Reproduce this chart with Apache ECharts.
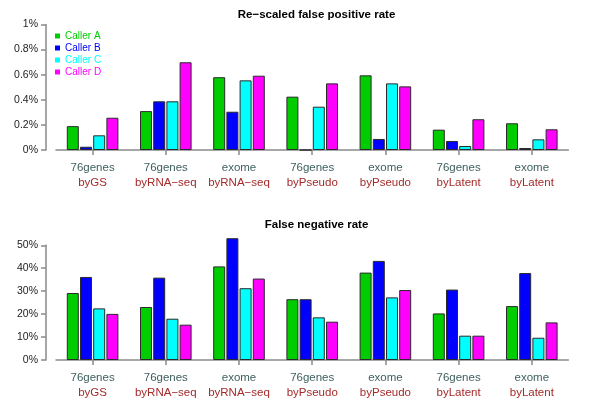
<!DOCTYPE html>
<html>
<head>
<meta charset="utf-8">
<script src="https://cdn.jsdelivr.net/npm/echarts@6/dist/echarts.min.js"></script>
<style>html,body{margin:0;padding:0;background:#fff}#c{width:600px;height:420px}</style>
</head>
<body>
<div id="c"></div>
<script>
// Data
var datasets = ['76genes','76genes','exome','76genes','exome','76genes','exome'];
var methods = ['byGS','byRNA\u2212seq','byRNA\u2212seq','byPseudo','byPseudo','byLatent','byLatent'];
var callers = ['Caller A','Caller B','Caller C','Caller D'];
var callerColors = ['#00CD00','#0000FF','#00FFFF','#FF00FF'];
// Re-scaled false positive rate (%)
var fpA = [0.19, 0.31, 0.58, 0.425, 0.595, 0.162, 0.213];
var fpB = [0.026, 0.388, 0.305, 0, 0.088, 0.072, 0.016];
var fpC = [0.117, 0.388, 0.555, 0.345, 0.531, 0.032, 0.085];
var fpD = [0.257, 0.699, 0.592, 0.531, 0.507, 0.245, 0.165];
// False negative rate (%)
var fnA = [29.2, 23.1, 40.8, 26.5, 38.1, 20.3, 23.5];
var fnB = [36.2, 35.9, 53.1, 26.5, 43.2, 30.7, 37.9];
var fnC = [22.5, 18.0, 31.3, 18.6, 27.3, 10.6, 9.7];
var fnD = [20.1, 15.4, 35.5, 16.7, 30.5, 10.6, 16.4];
var titles = ['Re\u2212scaled false positive rate', 'False negative rate'];

var cats = datasets.map(function(d,i){ return d + '\n' + methods[i]; });
var font = 'Liberation Sans, Arial, Helvetica, sans-serif';

function xAx(gi){
  return {
    type:'category', gridIndex: gi, data: cats,
    axisLine:{show:true, lineStyle:{color:'#8a8a8a', width:1.5}},
    axisTick:{show:true, alignWithLabel:true, length:5, lineStyle:{color:'#8a8a8a', width:1.5}},
    axisLabel:{
      margin:10, interval:0,
      formatter:function(v){ var p=v.split('\n'); return '{a|'+p[0]+'}\n{b|'+p[1]+'}'; },
      rich:{
        a:{color:'#3F5F5F', fontSize:11.5, fontFamily:font, lineHeight:15.5},
        b:{color:'#A52A2A', fontSize:11.5, fontFamily:font, lineHeight:15.5}
      }
    },
    splitLine:{show:false}
  };
}
function yAx(gi, max, interval){
  return {
    type:'value', gridIndex: gi, min:0, max:max, interval:interval, offset:10,
    axisLine:{show:true, lineStyle:{color:'#8a8a8a', width:1.5}},
    axisTick:{show:true, length:5, lineStyle:{color:'#8a8a8a', width:1.5}},
    axisLabel:{formatter:'{value}%', color:'#222', fontSize:10.5, fontFamily:font, margin:8},
    splitLine:{show:false}
  };
}
var fp = [fpA, fpB, fpC, fpD];
var fn = [fnA, fnB, fnC, fnD];
var series = [];
[fp, fn].forEach(function(set, gi){
  set.forEach(function(vals, k){
    series.push({
      type:'bar', name: callers[k], xAxisIndex: gi, yAxisIndex: gi,
      data: vals, barWidth:12, barGap:'10%', clip:false,
      itemStyle:{color: callerColors[k], borderColor:'#2a2a2a', borderWidth:1},
      emphasis:{disabled:true}, animation:false
    });
  });
});

var chart = echarts.init(document.getElementById('c'), null, {renderer:'canvas'});
chart.setOption({
  backgroundColor:'#fff',
  animation:false,
  title:[
    {text:titles[0], left:311.5, textAlign:'center', top:3.5, textStyle:{fontSize:11.5, fontWeight:'bold', color:'#000', fontFamily:font}},
    {text:titles[1], left:311.5, textAlign:'center', top:213.5, textStyle:{fontSize:11.5, fontWeight:'bold', color:'#000', fontFamily:font}}
  ],
  legend:{
    orient:'vertical', left:55, top:31, padding:0, itemWidth:5, itemHeight:5, itemGap:2, icon:'rect',
    itemStyle:{borderWidth:0},
    data: callers.map(function(c,k){ return {name:c, textStyle:{color:callerColors[k]}}; }),
    textStyle:{fontSize:10, fontFamily:font},
    selectedMode:false
  },
  grid:[
    {left:56, top:24.5, width:512.4, height:125.5},
    {left:56, top:245.3, width:512.4, height:114.7}
  ],
  xAxis:[xAx(0), xAx(1)],
  yAxis:[yAx(0, 1, 0.2), yAx(1, 50, 10)],
  series: series
});
</script>
</body>
</html>
